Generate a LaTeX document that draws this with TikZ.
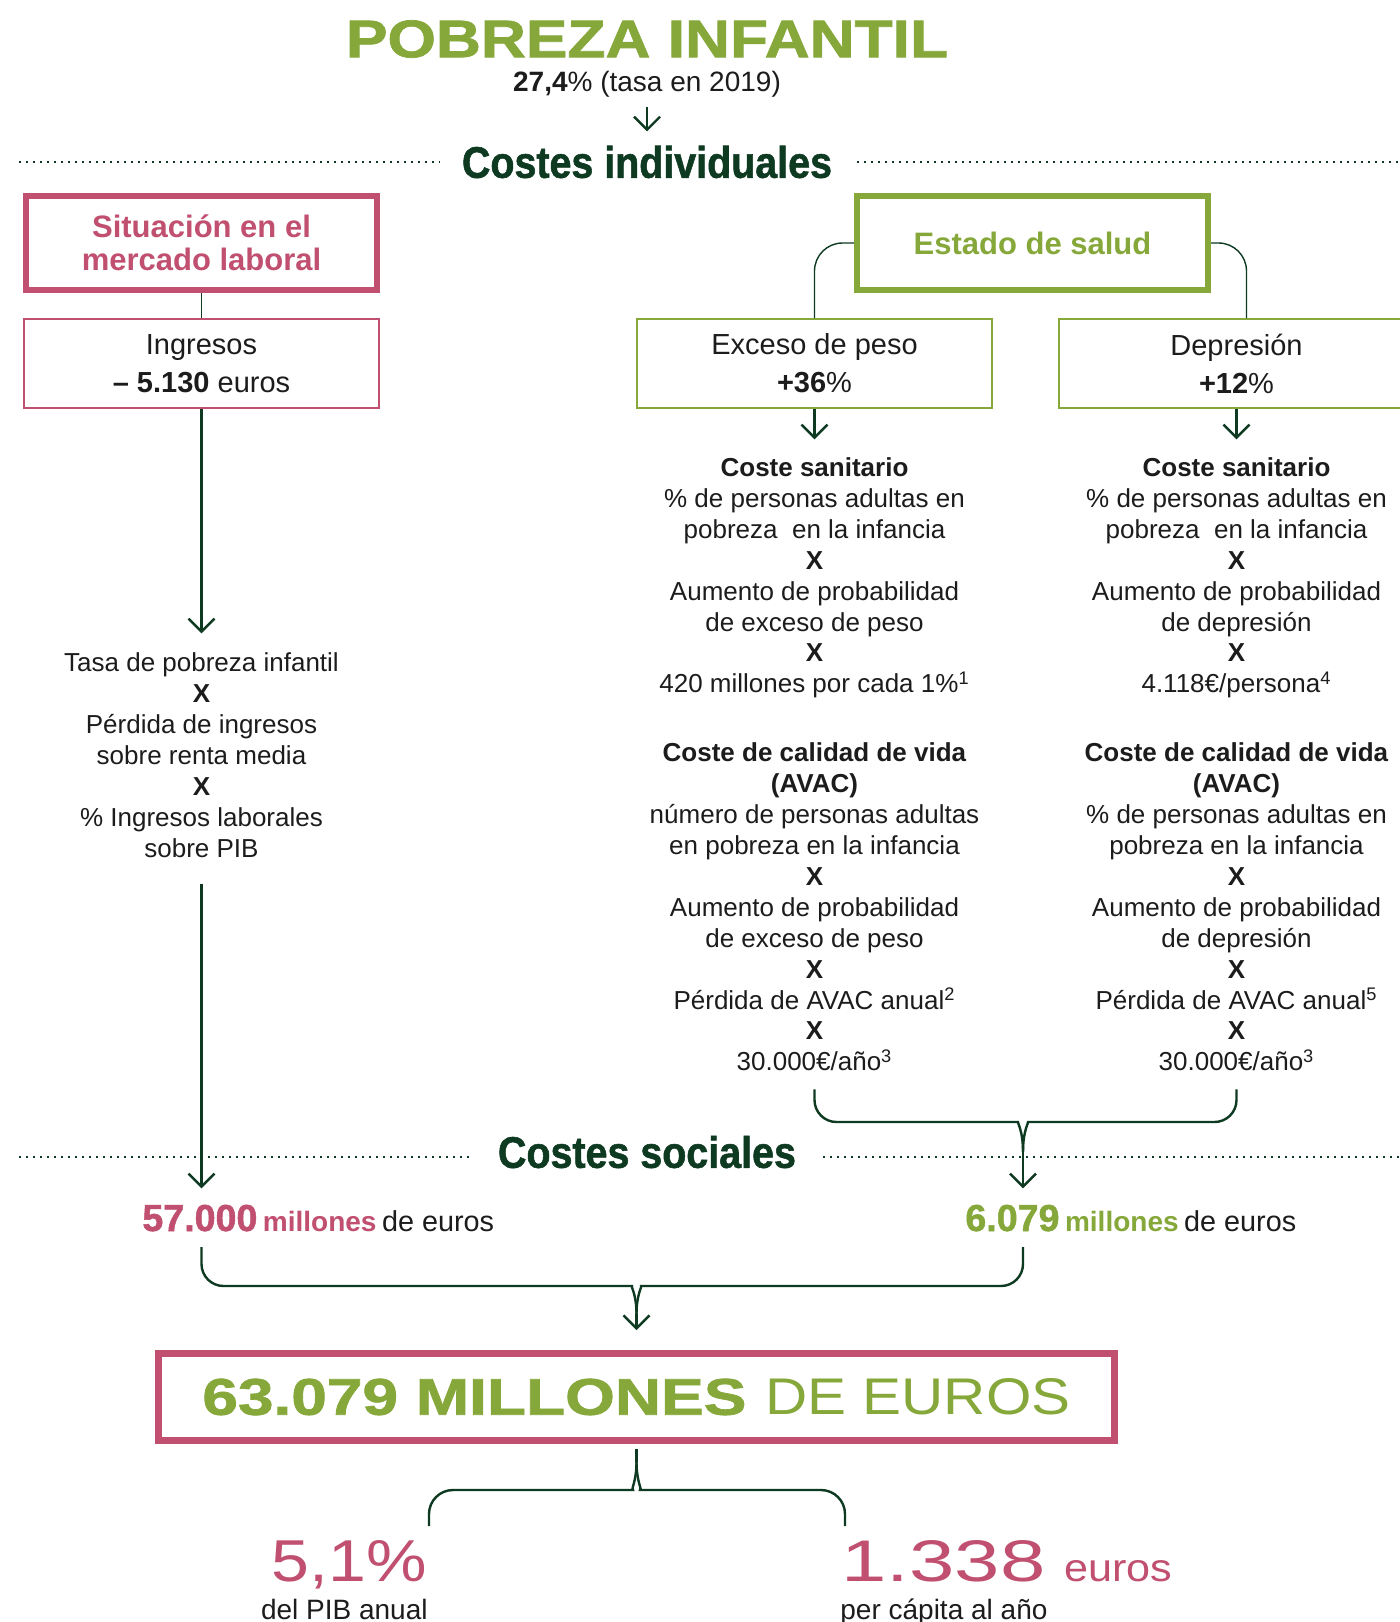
\documentclass[tikz,border=0pt]{standalone}
\usepackage{graphicx}
\usepackage{fontspec}
\setmainfont{Liberation Sans}
\newfontfamily\gruesa[FakeBold=1.3]{Liberation Sans Bold}
\usetikzlibrary{arrows.meta,positioning}

\definecolor{verde}{HTML}{86A83A}
\definecolor{rosa}{HTML}{C04F70}
\definecolor{oscuro}{HTML}{0E3A22}
\definecolor{tinta}{HTML}{1C1C1C}

\tikzset{
  conn/.style={draw=oscuro, line width=1.2pt},
  link/.style={draw=oscuro, line width=0.7pt},
  arr/.style={conn, -{Straight Barb[length=6.5pt,width=13pt]}},
  puntos/.style={oscuro, line width=0.9pt, dash pattern=on 1.2pt off 2.3pt},
  cabecera/.style={draw, line width=3pt, minimum width=175.5pt, minimum height=47pt, inner sep=0pt, align=center, font=\fontsize{15.5}{16.5}\selectfont\bfseries},
  caja/.style={draw, line width=0.8pt, minimum width=177.5pt, minimum height=44.5pt, inner sep=0pt, align=center, text=tinta, font=\fontsize{14.5}{19}\selectfont},
  calculo/.style={inner sep=0pt, align=center, text=tinta, font=\fontsize{13}{15.45}\selectfont},
  texto/.style={inner sep=0pt, text=tinta},
}

\begin{document}
\begin{tikzpicture}[x=0.5pt, y=-0.5pt]
\fill[white] (0,0) rectangle (1400,1622);
\useasboundingbox (0,0) rectangle (1400,1622);

% cabecera
\node[inner sep=0pt, text=verde] (titulo) at (647,39) {\resizebox{301pt}{18.5pt}{\gruesa POBREZA INFANTIL}};
\node[texto, font=\fontsize{14}{16}\selectfont] (tasa2019) at (647,84) {\textbf{27,4}\% (tasa en 2019)};
\node[inner sep=0pt, text=oscuro] (costind) at (647,162) {\resizebox{185pt}{16pt}{\gruesa Costes individuales}};
\draw[arr, shorten <=5pt, shorten >=7pt] (tasa2019) -- (costind);
\draw[puntos] (19,162) -- (440,162);
\draw[puntos] (857,162) -- (1400,162);

% cajas
\node[cabecera, draw=rosa, text=rosa] (laboral) at (201.5,243) {Situación en el\\mercado laboral};
\node[cabecera, draw=verde, text=verde] (salud) at (1032.5,243) {Estado de salud};
\node[caja, draw=rosa] (ingresos) at (201.5,363.5) {Ingresos\\\textbf{– 5.130} euros};
\node[caja, draw=verde] (exceso) at (814.5,363.5) {Exceso de peso\\\textbf{+36}\%};
\node[caja, draw=verde] (depresion) at (1236.5,363.5) {Depresión\\\textbf{+12}\%};
\draw[link] (laboral) -- (ingresos);
\draw[link, rounded corners=14pt] (salud.west) -| (exceso.north);
\draw[link, rounded corners=14pt] (salud.east) -| ([xshift=5pt]depresion.north);

% calculos
\node[calculo] (perdida) at (201.5,755) {Tasa de pobreza infantil\\\textbf{X}\\Pérdida de ingresos\\sobre renta media\\\textbf{X}\\\% Ingresos laborales\\sobre PIB};
\node[calculo] (sanitario1) at (814.5,578) {\textbf{Coste sanitario}\\\% de personas adultas en\\pobreza~ en la infancia\\\textbf{X}\\Aumento de probabilidad\\de exceso de peso\\\textbf{X}\\420 millones por cada 1\%\textsuperscript{1}};
\node[calculo] (avac1) at (814.5,907) {\textbf{Coste de calidad de vida}\\\textbf{(AVAC)}\\número de personas adultas\\en pobreza en la infancia\\\textbf{X}\\Aumento de probabilidad\\de exceso de peso\\\textbf{X}\\Pérdida de AVAC anual\textsuperscript{2}\\\textbf{X}\\30.000€/año\textsuperscript{3}};
\node[calculo] (sanitario2) at (1236.5,578) {\textbf{Coste sanitario}\\\% de personas adultas en\\pobreza~ en la infancia\\\textbf{X}\\Aumento de probabilidad\\de depresión\\\textbf{X}\\4.118€/persona\textsuperscript{4}};
\node[calculo] (avac2) at (1236.5,907) {\textbf{Coste de calidad de vida}\\\textbf{(AVAC)}\\\% de personas adultas en\\pobreza en la infancia\\\textbf{X}\\Aumento de probabilidad\\de depresión\\\textbf{X}\\Pérdida de AVAC anual\textsuperscript{5}\\\textbf{X}\\30.000€/año\textsuperscript{3}};
\draw[arr, shorten >=9.5pt] (ingresos) -- (perdida);
\draw[arr, shorten >=9pt] (exceso) -- (sanitario1);
\draw[arr, shorten >=9pt] (depresion) -- (sanitario2);

% costes sociales
\node[inner sep=0pt, text=oscuro] (costsoc) at (647,1152) {\resizebox{149pt}{16pt}{\gruesa Costes sociales}};
\draw[puntos] (19,1157) -- (470,1157);
\draw[puntos] (823,1157) -- (1400,1157);
\node[texto, anchor=base west] (social1) at (142,1231) {{\fontsize{18.8}{20}\selectfont\gruesa\color{rosa}57.000} {\fontsize{14}{16}\selectfont\bfseries\color{rosa}millones} {\fontsize{14.4}{16}\selectfont de euros}};
\node[texto, anchor=base west] (social2) at (965,1231) {{\fontsize{18.8}{20}\selectfont\gruesa\color{verde}6.079} {\fontsize{14}{16}\selectfont\bfseries\color{verde}millones} {\fontsize{14.4}{16}\selectfont de euros}};
\draw[arr, shorten <=13pt, shorten >=8pt] (perdida.south) -- (perdida.south |- social1.north);

\coordinate (juntaA) at (1023,1152);
\draw[conn, rounded corners=11pt] ([yshift=-9pt]avac1.south) |- (996,1122) [sharp corners] .. controls (1017,1122) and (1023,1130) .. (juntaA);
\draw[conn, rounded corners=11pt] ([yshift=-9pt]avac2.south) |- (1050,1122) [sharp corners] .. controls (1029,1122) and (1023,1130) .. (juntaA);
\draw[arr, shorten >=8pt] (juntaA) -- (juntaA |- social2.north);

% total
\node[draw=rosa, line width=3.5pt, minimum width=478pt, minimum height=43.5pt, inner sep=0pt, text=verde] (total) at (636.5,1397) {\resizebox{272pt}{18pt}{\gruesa 63.079 MILLONES}\hspace{9.5pt}\resizebox{152.5pt}{18pt}{DE EUROS}};
\coordinate (ramaA) at (201.5,1247);
\coordinate (ramaB) at (1023,1247);
\coordinate (juntaB) at (636.5,1314);
\draw[conn, rounded corners=11pt] (ramaA) |- (610,1286) [sharp corners] .. controls (630.5,1286) and (636.5,1294) .. (juntaB);
\draw[conn, rounded corners=11pt] (ramaB) |- (663,1286) [sharp corners] .. controls (642.5,1286) and (636.5,1294) .. (juntaB);
\draw[arr, shorten >=10pt] (juntaB) -- (total);

% reparto
\coordinate (juntaC) at (636.5,1462);
\coordinate (pib) at (429,1526);
\coordinate (capita) at (845,1526);
\draw[conn] ([yshift=-2.5pt]total.south) -- (juntaC);
\draw[conn, rounded corners=12pt] (pib) |- (609,1490) [sharp corners] .. controls (630.5,1490) and (636.5,1482) .. (juntaC);
\draw[conn, rounded corners=12pt] (capita) |- (664,1490) [sharp corners] .. controls (642.5,1490) and (636.5,1482) .. (juntaC);
\node[texto, anchor=base east, text=rosa] (porcentaje) at (427,1581) {\resizebox{77.5pt}{20.5pt}{5,1\%}};
\node[texto, anchor=base east, font=\fontsize{14}{16}\selectfont] (pibtxt) at (428,1619) {del PIB anual};
\node[texto, anchor=base west, text=rosa] (percapita) at (841,1581) {\resizebox{102pt}{20.5pt}{1.338}\hspace{9.5pt}\resizebox{54pt}{10.5pt}{euros}};
\node[texto, anchor=base west, font=\fontsize{14}{16}\selectfont] (capitatxt) at (840,1619) {per cápita al año};
\end{tikzpicture}
\end{document}
